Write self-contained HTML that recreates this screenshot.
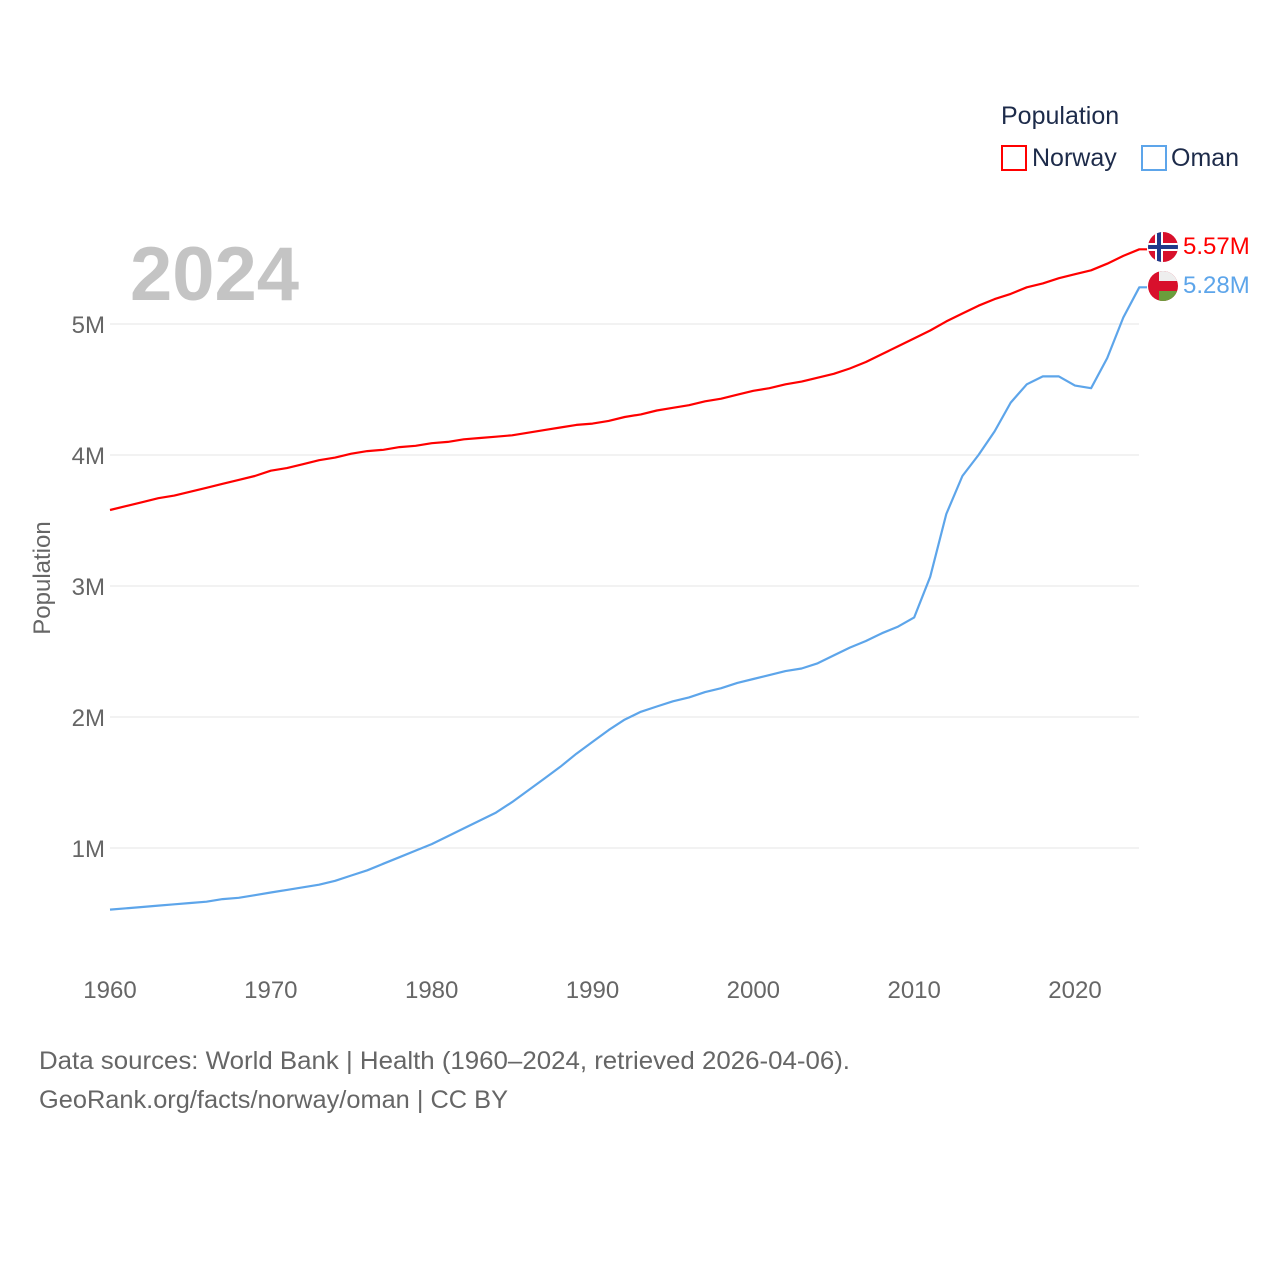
<!DOCTYPE html>
<html><head><meta charset="utf-8">
<style>
html,body{margin:0;padding:0;background:#fff;}
svg text{font-family:"Liberation Sans",sans-serif;}
</style></head>
<body>
<svg id="chart" width="1280" height="1280" viewBox="0 0 1280 1280" xmlns="http://www.w3.org/2000/svg">
<rect width="1280" height="1280" fill="#fff"/>
<g id="grid"></g>
<g id="yticks"></g>
<g id="xticks"></g>
<text x="130" y="300" font-size="76" font-weight="bold" fill="#c4c4c4">2024</text>
<text transform="translate(50,578) rotate(-90)" text-anchor="middle" font-size="24" fill="#666">Population</text>
<g id="lines"></g>
<g>
<text x="1001" y="124" font-size="25" fill="#1d2b4a">Population</text>
<rect x="1002" y="146" width="24" height="24" fill="none" stroke="#ff0000" stroke-width="2"/>
<text x="1032" y="166" font-size="25" fill="#1d2b4a">Norway</text>
<rect x="1142" y="146" width="24" height="24" fill="none" stroke="#5da5ea" stroke-width="2"/>
<text x="1171" y="166" font-size="25" fill="#1d2b4a">Oman</text>
</g>
<defs>
<clipPath id="cn"><circle cx="1163" cy="247" r="15"/></clipPath>
<clipPath id="co"><circle cx="1163" cy="286" r="15"/></clipPath>
</defs>
<g clip-path="url(#cn)">
<rect x="1148" y="232" width="30" height="30" fill="#d8102c"/>
<rect x="1148" y="243" width="30" height="8" fill="#fff"/>
<rect x="1155" y="232" width="8" height="30" fill="#fff"/>
<rect x="1148" y="245" width="30" height="4" fill="#1f3a8a"/>
<rect x="1157" y="232" width="4" height="30" fill="#1f3a8a"/>
</g>
<g clip-path="url(#co)">
<rect x="1148" y="271" width="30" height="30" fill="#d8102c"/>
<rect x="1159" y="271" width="19" height="10" fill="#eee"/>
<rect x="1159" y="291" width="19" height="10" fill="#6a9e3c"/>
</g>
<text x="1183" y="254" font-size="24" fill="#ff0000">5.57M</text>
<text x="1183" y="293" font-size="24" fill="#5da5ea">5.28M</text>
<text x="39" y="1069" font-size="25" fill="#666" textLength="811" lengthAdjust="spacingAndGlyphs">Data sources: World Bank | Health (1960–2024, retrieved 2026-04-06).</text>
<text x="39" y="1108" font-size="25" fill="#666" textLength="469" lengthAdjust="spacingAndGlyphs">GeoRank.org/facts/norway/oman | CC BY</text>
</svg>
<script>
const years=[];for(let y=1960;y<=2024;y++)years.push(y);
const norway=[3.58,3.61,3.64,3.67,3.69,3.72,3.75,3.78,3.81,3.84,3.88,3.90,3.93,3.96,3.98,4.01,4.03,4.04,4.06,4.07,4.09,4.10,4.12,4.13,4.14,4.15,4.17,4.19,4.21,4.23,4.24,4.26,4.29,4.31,4.34,4.36,4.38,4.41,4.43,4.46,4.49,4.51,4.54,4.56,4.59,4.62,4.66,4.71,4.77,4.83,4.89,4.95,5.02,5.08,5.14,5.19,5.23,5.28,5.31,5.35,5.38,5.41,5.46,5.52,5.57];
const oman=[0.53,0.54,0.55,0.56,0.57,0.58,0.59,0.61,0.62,0.64,0.66,0.68,0.70,0.72,0.75,0.79,0.83,0.88,0.93,0.98,1.03,1.09,1.15,1.21,1.27,1.35,1.44,1.53,1.62,1.72,1.81,1.90,1.98,2.04,2.08,2.12,2.15,2.19,2.22,2.26,2.29,2.32,2.35,2.37,2.41,2.47,2.53,2.58,2.64,2.69,2.76,3.07,3.55,3.84,4.00,4.18,4.40,4.54,4.60,4.60,4.53,4.51,4.74,5.05,5.28];
const yTicks=[1,2,3,4,5];
const yTickLabels=["1M","2M","3M","4M","5M"];
const xTicks=[1960,1970,1980,1990,2000,2010,2020];
const NS="http://www.w3.org/2000/svg";
const xs=y=>110+(y-1960)*(965/60);
const ys=v=>979-v*131;
function mk(tag,attrs,parent){const e=document.createElementNS(NS,tag);for(const k in attrs)e.setAttribute(k,attrs[k]);parent.appendChild(e);return e;}
const grid=document.getElementById('grid'),yt=document.getElementById('yticks'),xt=document.getElementById('xticks'),lines=document.getElementById('lines');
yTicks.forEach((v,i)=>{
 const l=mk('line',{x1:110,x2:1139,y1:ys(v),y2:ys(v),stroke:'#e6e6e6','stroke-width':1},grid);
 
 
 const t=mk('text',{x:105,y:ys(v)+9,'text-anchor':'end','font-size':24,fill:'#666'},yt);
 t.textContent=yTickLabels[i];
 
 
});
xTicks.forEach(y=>{
 const t=mk('text',{x:xs(y),y:998,'text-anchor':'middle','font-size':24,fill:'#666'},xt);
 t.textContent=y;
 
 
});
function line(vals,color,name){
 let d=vals.map((v,i)=>(i?'L':'M')+xs(years[i]).toFixed(1)+','+ys(v).toFixed(1)).join(' ');
 d+=' L1147,'+ys(vals[vals.length-1]).toFixed(1);
 const p=mk('path',{d:d,fill:'none',stroke:color,'stroke-width':2.2,'stroke-linejoin':'round'},lines);
 
 
}
line(norway,'#ff0000','norway-line');
line(oman,'#5da5ea','oman-line');
</script>
</body></html>
